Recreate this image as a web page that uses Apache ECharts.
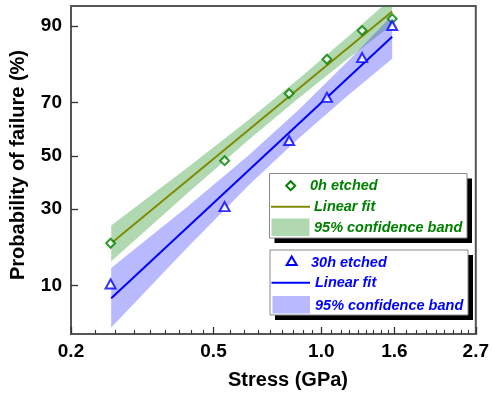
<!DOCTYPE html>
<html>
<head>
<meta charset="utf-8">
<script src="https://cdn.jsdelivr.net/npm/echarts@6/dist/echarts.min.js"></script>
<style>
html,body{margin:0;padding:0;background:#fff;}
#chart{width:492px;height:394px;}
</style>
</head>
<body>
<div id="chart"></div>
<script>
// ---- data ----
const stress = [0.258, 0.537, 0.813, 1.037, 1.30, 1.577];          // GPa
const pEtched0 = [19.4, 48.1, 73.1, 83.0, 89.2, 91.2];             // % (0h etched)
const pEtched30 = [10.3, 30.8, 56.0, 71.8, 83.4, 90.1];            // % (30h etched)
const fitStress = [0.259, 1.577];
const fit0 = [19.4, 92.3];
const fit30 = [8.0, 88.0];
const bandStress = [0.259, 0.426, 0.626, 0.862, 1.186, 1.577];
const band0Upper = [24.6, 45.7, 63.8, 77.5, 88.0, 94.1];
const band0Lower = [14.9, 36.0, 56.2, 71.4, 83.1, 90.2];
const band30Upper = [13.4, 31.1, 50.1, 67.4, 82.5, 91.7];
const band30Lower = [4.5, 18.6, 38.5, 56.7, 72.4, 83.1];
const xTicks = [0.2, 0.5, 1.0, 1.6, 2.7];
const xTickLabels = ['0.2', '0.5', '1.0', '1.6', '2.7'];
const yTicks = [10, 30, 50, 70, 90];
const yRangeP = [3.93, 93.05];

// ---- probability (normal) scale ----
function probit(p) {
  const a = [-3.969683028665376e+01, 2.209460984245205e+02, -2.759285104469687e+02, 1.383577518672690e+02, -3.066479806614716e+01, 2.506628277459239e+00];
  const b = [-5.447609879822406e+01, 1.615858368580409e+02, -1.556989798598866e+02, 6.680131188771972e+01, -1.328068155288572e+01];
  const c = [-7.784894002430293e-03, -3.223964580411365e-01, -2.400758277161838e+00, -2.549732539343734e+00, 4.374664141464968e+00, 2.938163982698783e+00];
  const d = [7.784695709041462e-03, 3.224671290700398e-01, 2.445134137142996e+00, 3.754408661907416e+00];
  const pl = 0.02425, ph = 1 - pl;
  let q, r;
  if (p < pl) {
    q = Math.sqrt(-2 * Math.log(p));
    return (((((c[0]*q+c[1])*q+c[2])*q+c[3])*q+c[4])*q+c[5]) / ((((d[0]*q+d[1])*q+d[2])*q+d[3])*q+1);
  } else if (p <= ph) {
    q = p - 0.5; r = q * q;
    return (((((a[0]*r+a[1])*r+a[2])*r+a[3])*r+a[4])*r+a[5])*q / (((((b[0]*r+b[1])*r+b[2])*r+b[3])*r+b[4])*r+1);
  } else {
    q = Math.sqrt(-2 * Math.log(1 - p));
    return -(((((c[0]*q+c[1])*q+c[2])*q+c[3])*q+c[4])*q+c[5]) / ((((d[0]*q+d[1])*q+d[2])*q+d[3])*q+1);
  }
}
const X = s => Math.log(s);
const Y = pct => probit(pct / 100);

const xMajor = xTicks.map(X);
const xMinor = [];
for (let i = 0; i < xTicks.length - 1; i++) {
  for (let k = 1; k <= 8; k++) xMinor.push(X(xTicks[i] + (xTicks[i+1] - xTicks[i]) * k / 9));
}
const yMajor = yTicks.map(Y);

const FONT = "'Liberation Sans', Arial, sans-serif";
const GREEN = '#008000', OLIVE = '#7f8a00', BLUE = '#0000ff';
const GREEN_BAND = 'rgba(40,150,40,0.36)', BLUE_BAND = 'rgba(60,60,255,0.36)';

function bandSeries(up, lo, color) {
  return {
    type: 'custom', coordinateSystem: 'cartesian2d', silent: true, z: 1,
    data: [[0, 0]],
    renderItem: function (params, api) {
      const pts = [];
      for (let i = 0; i < bandStress.length; i++) pts.push(api.coord([X(bandStress[i]), Y(up[i])]));
      for (let i = bandStress.length - 1; i >= 0; i--) pts.push(api.coord([X(bandStress[i]), Y(lo[i])]));
      const cs = params.coordSys;
      return {
        type: 'polygon', shape: { points: pts }, style: { fill: color },
        clipPath: { type: 'rect', shape: { x: cs.x, y: cs.y, width: cs.width, height: cs.height } }
      };
    }
  };
}

function labelFor(v, vals, labels) {
  for (let i = 0; i < vals.length; i++) if (Math.abs(vals[i] - v) < 1e-6) return labels[i];
  return '';
}

const chart = echarts.init(document.getElementById('chart'), null, { renderer: 'canvas' });

const legendText = (x, y, text, color) => ({
  type: 'text', x: x, y: y, z: 100,
  style: { text: text, fill: color, font: 'italic bold 14.5px ' + FONT, textAlign: 'left', textVerticalAlign: 'middle' }
});

const option = {
  animation: false,
  grid: { left: 71, right: 13, top: 6, bottom: 60, show: true, borderColor: '#555', borderWidth: 2, backgroundColor: 'transparent' },
  xAxis: [{
    type: 'value', min: X(xTicks[0]), max: X(xTicks[xTicks.length - 1]),
    axisLine: { show: true, onZero: false, lineStyle: { color: '#555', width: 2 } },
    axisTick: { show: true, inside: true, length: 7, customValues: xMajor, lineStyle: { color: '#333', width: 1.3 } },
    axisLabel: { show: true, customValues: xMajor, margin: 8, color: '#000', fontSize: 19, fontWeight: 'bold', fontFamily: FONT,
      formatter: v => labelFor(v, xMajor, xTickLabels) },
    splitLine: { show: false }
  }, {
    type: 'value', position: 'bottom', min: X(xTicks[0]), max: X(xTicks[xTicks.length - 1]),
    axisLine: { show: false, onZero: false },
    axisTick: { show: true, inside: true, length: 4, customValues: xMinor, lineStyle: { color: '#333', width: 1.1 } },
    axisLabel: { show: false },
    splitLine: { show: false }
  }],
  yAxis: [{
    type: 'value', min: Y(yRangeP[0]), max: Y(yRangeP[1]),
    axisLine: { show: true, onZero: false, lineStyle: { color: '#555', width: 2 } },
    axisTick: { show: true, inside: true, length: 7, customValues: yMajor, lineStyle: { color: '#333', width: 1.3 } },
    axisLabel: { show: true, customValues: yMajor, margin: 9, color: '#000', fontSize: 19, fontWeight: 'bold', fontFamily: FONT,
      formatter: v => labelFor(v, yMajor, yTicks.map(String)) },
    splitLine: { show: false }
  }],
  series: [
    bandSeries(band0Upper, band0Lower, GREEN_BAND),
    bandSeries(band30Upper, band30Lower, BLUE_BAND),
    { type: 'line', z: 3, symbol: 'none', silent: true,
      data: fitStress.map((s, i) => [X(s), Y(fit0[i])]),
      lineStyle: { color: OLIVE, width: 2 } },
    { type: 'line', z: 3, symbol: 'none', silent: true,
      data: fitStress.map((s, i) => [X(s), Y(fit30[i])]),
      lineStyle: { color: BLUE, width: 2 } },
    { type: 'scatter', z: 5, symbol: 'diamond', symbolSize: 9,
      data: stress.map((s, i) => [X(s), Y(pEtched0[i])]),
      itemStyle: { color: '#fff', borderColor: GREEN, borderWidth: 2 } },
    { type: 'scatter', z: 5, symbol: 'triangle', symbolSize: [10, 9],
      data: stress.map((s, i) => [X(s), Y(pEtched30[i])]),
      itemStyle: { color: '#fff', borderColor: BLUE, borderWidth: 2 } }
  ],
  graphic: [
    // axis titles
    { type: 'text', x: 288, y: 380, style: { text: 'Stress (GPa)', font: 'bold 20px ' + FONT, fill: '#000', textAlign: 'center', textVerticalAlign: 'middle' } },
    { type: 'text', x: 18.5, y: 165, rotation: Math.PI / 2, style: { text: 'Probability of failure (%)', font: 'bold 20px ' + FONT, fill: '#000', textAlign: 'center', textVerticalAlign: 'middle' } },
    // legend box 1
    { type: 'rect', z: 90, shape: { x: 274.5, y: 178.5, width: 197.5, height: 64.5 }, style: { fill: '#000' } },
    { type: 'rect', z: 91, shape: { x: 269.5, y: 173.5, width: 197.5, height: 64.5 }, style: { fill: '#fff', stroke: '#888', lineWidth: 1 } },
    { type: 'polygon', z: 100, shape: { points: [[290.7, 181.2], [295.2, 185.7], [290.7, 190.2], [286.2, 185.7]] }, style: { fill: '#fff', stroke: GREEN, lineWidth: 2 } },
    legendText(310, 186, '0h etched', GREEN),
    { type: 'line', z: 100, shape: { x1: 271, y1: 206.7, x2: 310, y2: 206.7 }, style: { stroke: OLIVE, lineWidth: 2 } },
    legendText(314, 207, 'Linear fit', GREEN),
    { type: 'rect', z: 100, shape: { x: 271.5, y: 218.5, width: 38, height: 17.5 }, style: { fill: GREEN_BAND } },
    legendText(314, 228, '95% confidence band', GREEN),
    // legend box 2
    { type: 'rect', z: 90, shape: { x: 275, y: 255, width: 198, height: 65 }, style: { fill: '#000' } },
    { type: 'rect', z: 91, shape: { x: 270, y: 250, width: 198, height: 65 }, style: { fill: '#fff', stroke: '#888', lineWidth: 1 } },
    { type: 'polygon', z: 100, shape: { points: [[291.7, 256.5], [296.7, 265], [286.7, 265]] }, style: { fill: '#fff', stroke: BLUE, lineWidth: 2 } },
    legendText(311, 263, '30h etched', BLUE),
    { type: 'line', z: 100, shape: { x1: 271.5, y1: 282.7, x2: 310, y2: 282.7 }, style: { stroke: BLUE, lineWidth: 2 } },
    legendText(315, 283, 'Linear fit', BLUE),
    { type: 'rect', z: 100, shape: { x: 272.5, y: 296, width: 37.5, height: 17.5 }, style: { fill: BLUE_BAND } },
    legendText(315, 305.5, '95% confidence band', BLUE)
  ]
};
chart.setOption(option);
</script>
</body>
</html>
